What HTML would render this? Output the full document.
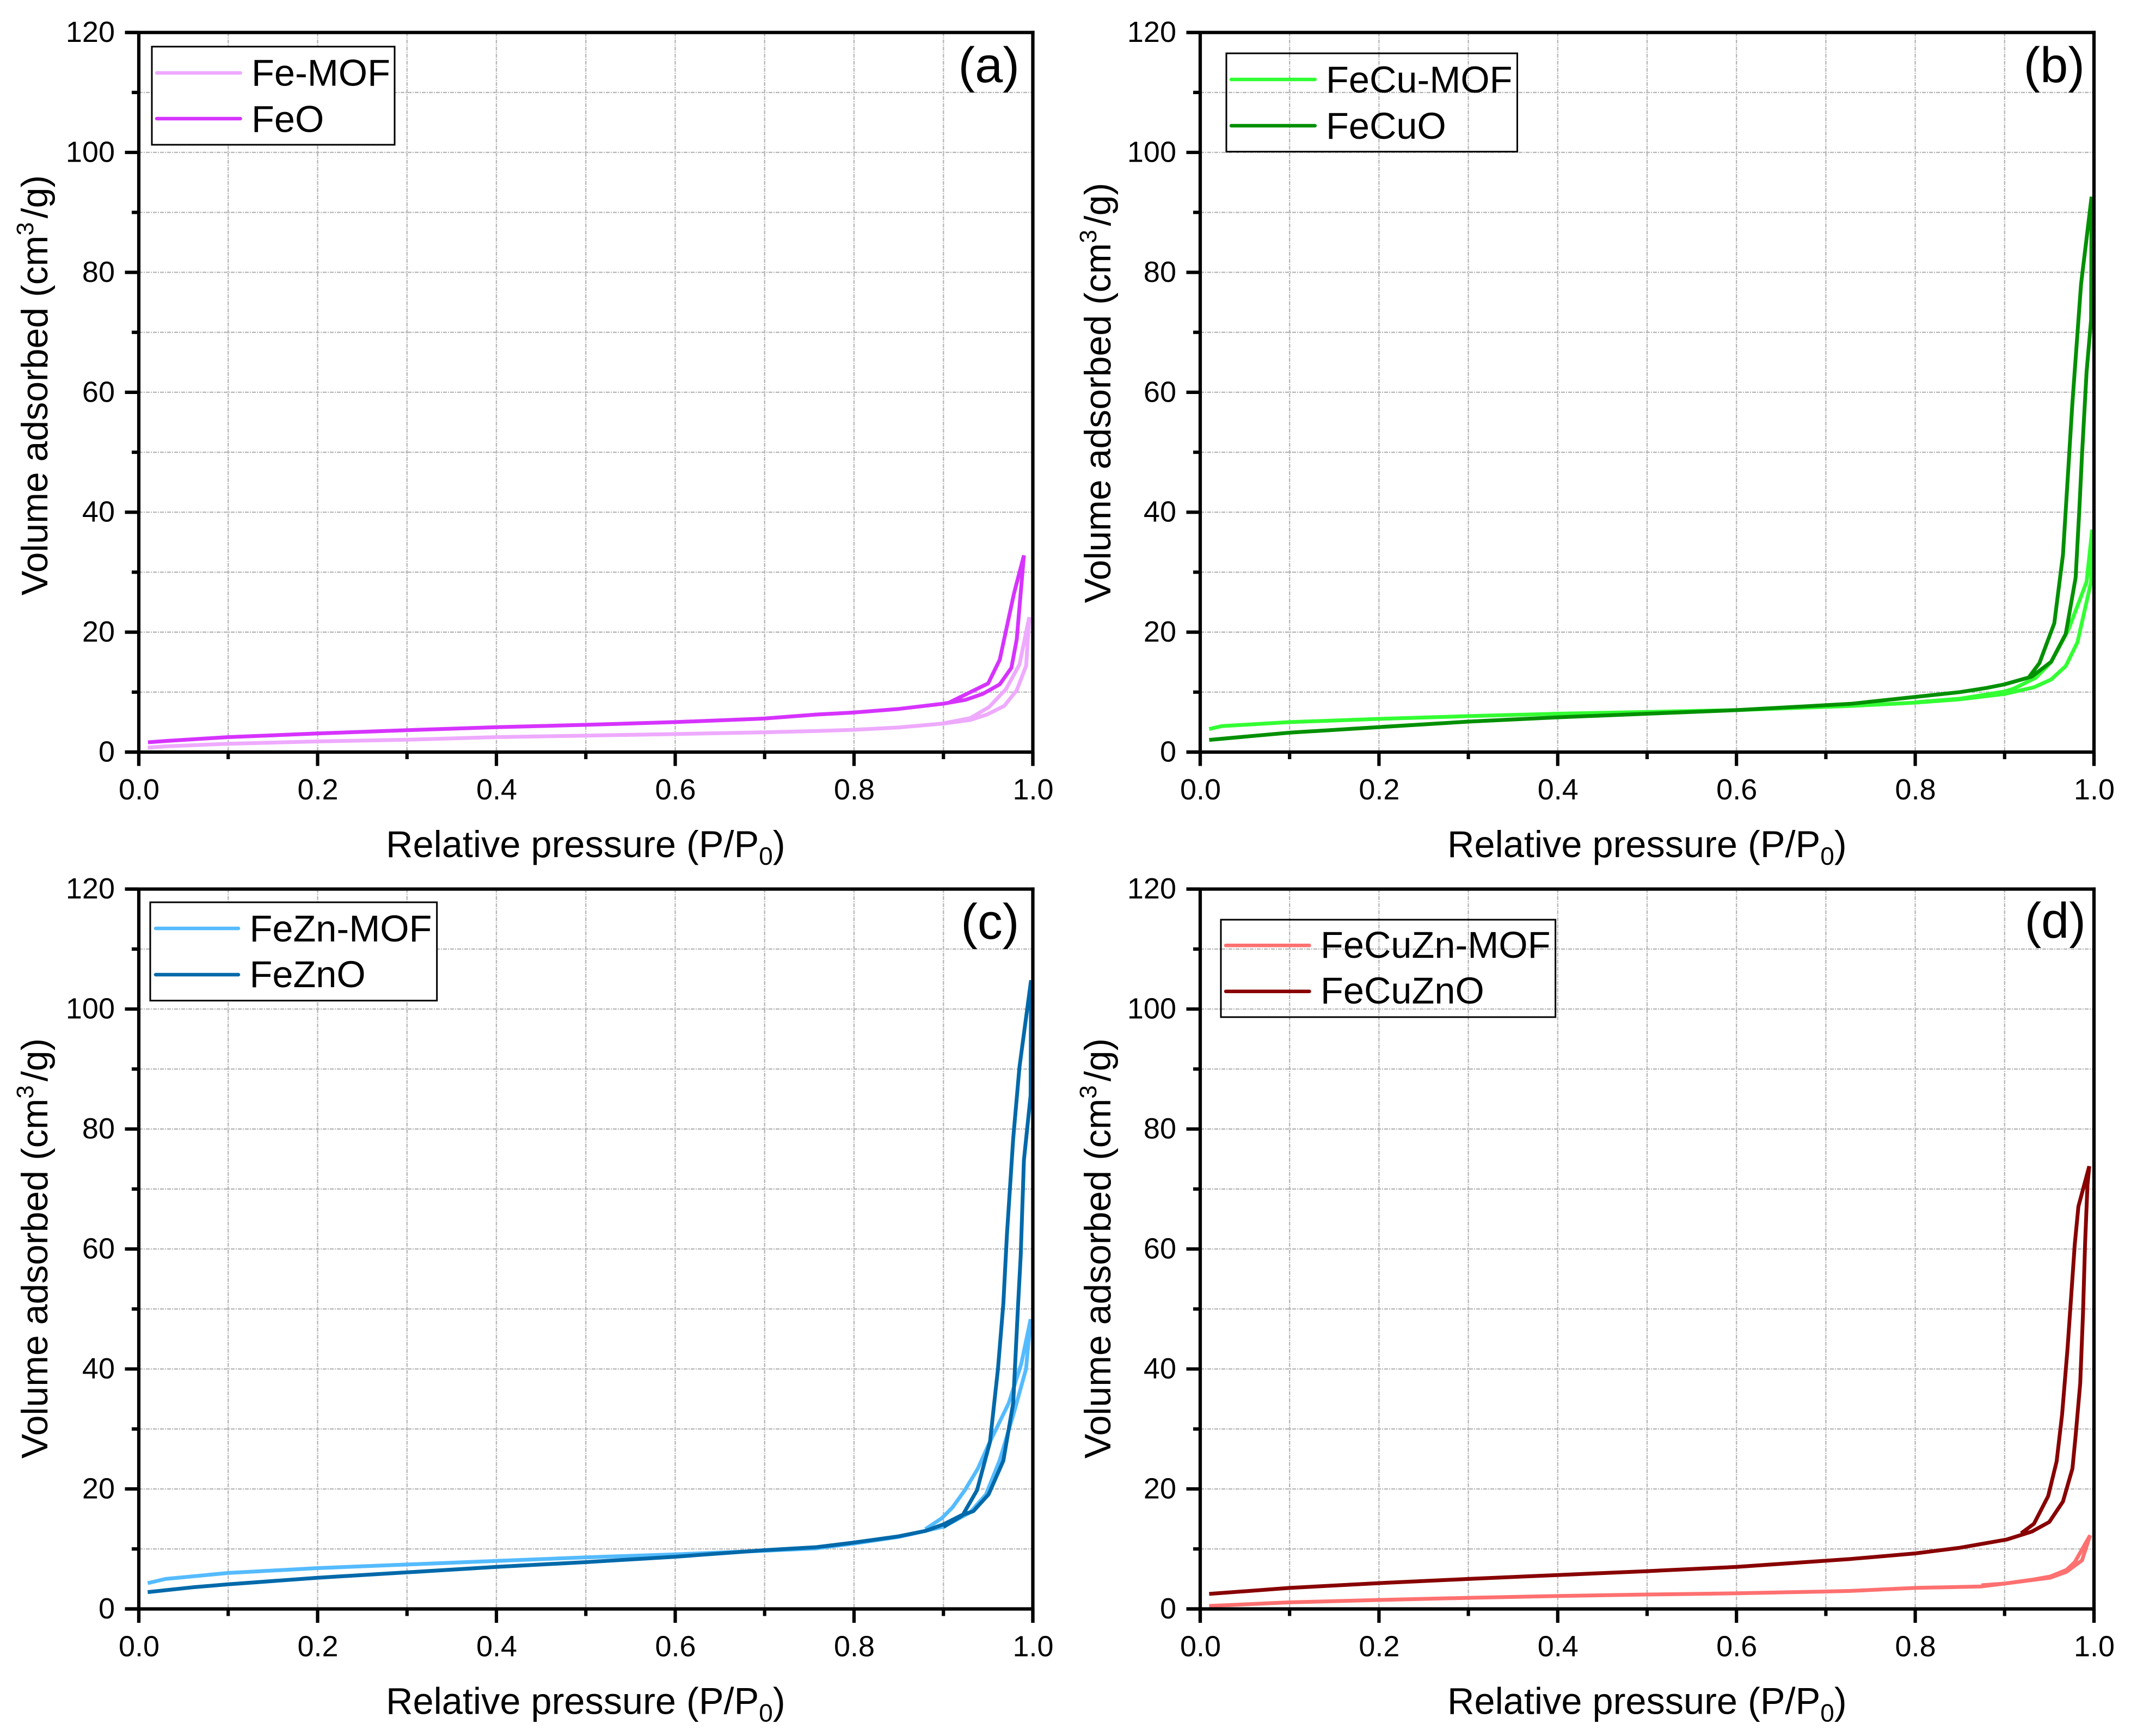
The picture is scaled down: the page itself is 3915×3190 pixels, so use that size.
<!DOCTYPE html>
<html lang="en">
<head>
<meta charset="utf-8">
<title>N2 adsorption isotherms</title>
<style>
html,body{margin:0;padding:0;background:#fff;width:3915px;height:3190px;overflow:hidden}
svg{display:block}
text{font-family:"Liberation Sans",Arial,sans-serif;fill:#000}
</style>
</head>
<body>
<svg id="figure" xmlns="http://www.w3.org/2000/svg" width="3915" height="3190" viewBox="0 0 3915 3190"></svg>
<script>
// ---- axis values ----
const xMajorTicks = [0, 0.2, 0.4, 0.6, 0.8, 1.0];
const xTickLabels = ['0.0', '0.2', '0.4', '0.6', '0.8', '1.0'];
const xMinorTicks = [0.1, 0.3, 0.5, 0.7, 0.9];
const yMajorTicks = [0, 20, 40, 60, 80, 100, 120];
const yTickLabels = ['0', '20', '40', '60', '80', '100', '120'];
const yMinorTicks = [10, 30, 50, 70, 90, 110];

// ---- series values: relative pressure / volume adsorbed ----
const feMofP = [0.01,0.03,0.1,0.2,0.3,0.4,0.5,0.6,0.7,0.758,0.8,0.85,0.9,0.93,0.9487,0.968,0.982,0.9925,0.996,0.985,0.97,0.951,0.93,0.9];
const feMofV = [0.75,0.95,1.39,1.78,2.06,2.5,2.75,3.0,3.3,3.51,3.72,4.1,4.76,5.35,6.26,7.7,10.3,14.4,22.5,14.6,10.5,7.5,5.66,4.8];
const feoP = [0.0103,0.03,0.1,0.2,0.3,0.4,0.5,0.6,0.7,0.758,0.8,0.85,0.9,0.9245,0.944,0.963,0.976,0.982,0.99,0.979,0.963,0.95,0.907];
const feoV = [1.63,1.85,2.5,3.1,3.66,4.15,4.55,5.0,5.6,6.26,6.6,7.2,8.08,8.7,9.7,11.3,14.06,18.8,32.8,26.5,15.4,11.45,8.3];
const feCuMofP = [0.01,0.024,0.1,0.2,0.3,0.4,0.5,0.6,0.7278,0.8,0.85,0.9,0.9327,0.952,0.9684,0.9815,0.9968,0.998,0.9917,0.9714,0.952,0.9349,0.9105,0.9,0.85,0.8];
const feCuMofV = [3.85,4.33,5.0,5.54,6.0,6.4,6.7,7.0,7.7,8.25,8.8,9.7,10.8,12.1,14.35,18.3,28.4,37.1,28.4,20.4,15,12.4,10.6,10.1,8.9,8.3];
const feCuOP = [0.01,0.1,0.2,0.3,0.4,0.5,0.6,0.7278,0.8,0.85,0.88,0.9,0.9306,0.952,0.9684,0.9795,0.9836,0.9866,0.9917,0.9968,0.9973,0.9855,0.9757,0.9714,0.9653,0.9556,0.939,0.9277];
const feCuOV = [2.03,3.24,4.17,5.08,5.8,6.4,7.0,8.05,9.2,10.0,10.7,11.3,12.6,15.05,19.7,29.1,40.5,49.6,63.4,72.1,92.6,78,57.9,47.5,32.9,21.5,14.85,12.6];
const feZnMofP = [0.01,0.03,0.1,0.2,0.3,0.4,0.5,0.6,0.7,0.758,0.8,0.85,0.9,0.93,0.9476,0.963,0.979,0.9924,0.9975,0.987,0.973,0.9505,0.9385,0.924,0.91,0.898,0.8798];
const feZnMofV = [4.3,5.0,6.0,6.8,7.4,8.0,8.6,9.1,9.7,10.1,10.9,12.0,13.7,16.1,19.1,24.8,32.8,40,48.3,40.8,34.3,27.4,23.4,19.8,16.9,15.1,13.3];
const feZnOP = [0.01,0.06,0.1,0.2,0.3,0.4,0.5,0.6,0.7,0.758,0.8,0.85,0.8798,0.9,0.92,0.9335,0.9505,0.967,0.978,0.9833,0.9864,0.99,0.9975,0.998,0.985,0.978,0.971,0.967,0.961,0.952,0.9376,0.9214,0.9];
const feZnOV = [2.8,3.6,4.1,5.2,6.1,7.0,7.8,8.7,9.8,10.3,11.07,12.1,13,14.1,15.6,16.3,19.1,24.7,34.3,50.2,58.9,74.8,85.6,104.8,90.3,78.4,62.4,50.9,40,27.8,19.8,15.6,13.66];
const feCuZnMofP = [0.01,0.1,0.2,0.3,0.4,0.5,0.6,0.7,0.7278,0.8,0.874,0.9,0.951,0.9693,0.9866,0.9957,0.9785,0.9693,0.951,0.9306,0.9,0.874];
const feCuZnMofV = [0.5,1.1,1.5,1.85,2.15,2.4,2.6,2.9,3.0,3.5,3.75,4.23,5.2,6.2,8.1,12.27,7.8,6.5,5.4,4.86,4.23,3.95];
const feCuZnOP = [0.01,0.1,0.2,0.3,0.4,0.5,0.6,0.7278,0.8,0.85,0.9023,0.9306,0.95,0.9653,0.9759,0.9795,0.9846,0.9877,0.99,0.9927,0.9947,0.9826,0.9785,0.9744,0.9704,0.9643,0.9582,0.9487,0.9328,0.9185];
const feCuZnOV = [2.5,3.5,4.3,5.0,5.65,6.3,7.0,8.33,9.25,10.2,11.57,12.9,14.5,17.9,23.4,28.9,37.6,49.2,60.8,70.6,73.8,67.1,60.8,52,43.4,32.4,24.6,18.8,14.2,12.6];

const NS = 'http://www.w3.org/2000/svg';
const root = document.getElementById('figure');

const panels = [
  { id:'a', tag:'(a)', left:255, right:1897.5, top:59.7, bottom:1382, tagX:1873, tagY:151,
    titleX:709, yTitleX:87, yTitleC:708, legendFill:'#fff',
    box:[279,85.7,725,266], sample:[285,444.5], rowY:[134,218], textX:462, baseY:[157.7,242.3],
    series:[{name:'Fe-MOF',color:'#EEAAFF',p:feMofP,v:feMofV},{name:'FeO',color:'#D633FF',p:feoP,v:feoV}] },
  { id:'b', tag:'(b)', left:2205, right:3847, top:59.7, bottom:1382, tagX:3830, tagY:151,
    titleX:2659, yTitleX:2040, yTitleC:722, legendFill:'none',
    box:[2253,98,2787.5,278.7], sample:[2259,2418.8], rowY:[146,231], textX:2436, baseY:[170,255],
    series:[{name:'FeCu-MOF',color:'#33FF33',p:feCuMofP,v:feCuMofV},{name:'FeCuO',color:'#009000',p:feCuOP,v:feCuOV}] },
  { id:'c', tag:'(c)', left:255, right:1897.5, top:1633.7, bottom:2956.5, tagX:1872.5, tagY:1725,
    titleX:709, yTitleX:87, yTitleC:2294, legendFill:'#fff',
    box:[276,1658,802.7,1838.7], sample:[283,441], rowY:[1706,1791], textX:458.5, baseY:[1730,1814],
    series:[{name:'FeZn-MOF',color:'#55BBFF',p:feZnMofP,v:feZnMofV},{name:'FeZnO',color:'#0069AA',p:feZnOP,v:feZnOV}] },
  { id:'d', tag:'(d)', left:2205, right:3847, top:1633.7, bottom:2956.5, tagX:3832, tagY:1723,
    titleX:2659, yTitleX:2040, yTitleC:2294, legendFill:'none',
    box:[2243,1690,2857.6,1869], sample:[2249,2408.5], rowY:[1737.3,1821.7], textX:2426, baseY:[1760,1844],
    series:[{name:'FeCuZn-MOF',color:'#FF7070',p:feCuZnMofP,v:feCuZnMofV},{name:'FeCuZnO',color:'#880000',p:feCuZnOP,v:feCuZnOV}] }
];

function make(tag, parent) {
  const el = document.createElementNS(NS, tag);
  parent.appendChild(el);
  return el;
}
function drawLine(parent, x1, y1, x2, y2, color, width) {
  const el = make('line', parent);
  el.setAttribute('x1', x1);
  el.setAttribute('y1', y1);
  el.setAttribute('x2', x2);
  el.setAttribute('y2', y2);
  el.setAttribute('stroke', color);
  el.setAttribute('stroke-width', width);
  return el;
}
function drawText(parent, x, y, str, size, anchor) {
  const el = make('text', parent);
  el.setAttribute('x', x);
  el.setAttribute('y', y);
  el.setAttribute('font-size', size);
  el.setAttribute('text-anchor', anchor);
  el.textContent = str;
  return el;
}
function addSpan(parent, str, size, dy, dx) {
  const el = make('tspan', parent);
  if (size) el.setAttribute('font-size', size);
  if (dy) el.setAttribute('dy', dy);
  if (dx) el.setAttribute('dx', dx);
  el.textContent = str;
  return el;
}

panels.forEach(function (P) {
  const sx = function (p) { return P.left + p * (P.right - P.left); };
  const sy = function (v) { return P.bottom - (v / 120) * (P.bottom - P.top); };
  const AXW = 6.2, MAJOR = 25.5, MINOR = 13;

  const g = make('g', root);
  
  

  // grid
  const grid = make('g', g);
  
  
  xMajorTicks.concat(xMinorTicks).forEach(function (t) {
    if (t === 0 || t === 1) return;
    const ln = drawLine(grid, sx(t), P.top, sx(t), P.bottom, '#b8b8b8', 2.4);
    ln.setAttribute('stroke-dasharray', '7 2 2 2');
    
    
  });
  yMajorTicks.concat(yMinorTicks).forEach(function (t) {
    if (t === 0 || t === 120) return;
    const ln = drawLine(grid, P.left, sy(t), P.right, sy(t), '#b8b8b8', 2.4);
    ln.setAttribute('stroke-dasharray', '7 2 2 2');
    
    
  });

  // series
  P.series.forEach(function (s) {
    const pts = s.p.map(function (p, i) { return sx(p).toFixed(1) + ',' + sy(s.v[i]).toFixed(1); }).join(' ');
    const poly = make('polyline', g);
    poly.setAttribute('points', pts);
    poly.setAttribute('fill', 'none');
    poly.setAttribute('stroke', s.color);
    poly.setAttribute('stroke-width', 7);
    poly.setAttribute('stroke-linejoin', 'bevel');
    
    
  });

  // axes frame
  const axes = make('g', g);
  
  
  const leftSpine = drawLine(axes, P.left, P.top, P.left, P.bottom + MAJOR, '#000', AXW);
  
  
  const rightSpine = drawLine(axes, P.right, P.top - AXW / 2, P.right, P.bottom + MAJOR, '#000', AXW);
  
  
  const topSpine = drawLine(axes, P.left - MAJOR, P.top, P.right + AXW / 2, P.top, '#000', AXW);
  
  
  const bottomSpine = drawLine(axes, P.left - MAJOR, P.bottom, P.right, P.bottom, '#000', AXW);
  
  

  // x ticks
  xMajorTicks.forEach(function (t, i) {
    const tk = drawLine(axes, sx(t), P.bottom, sx(t), P.bottom + MAJOR, '#000', AXW);
    
    
    const lb = drawText(axes, sx(t) + 0.5, P.bottom + 87, xTickLabels[i], 54, 'middle');
    
    
  });
  xMinorTicks.forEach(function (t) {
    const tk = drawLine(axes, sx(t), P.bottom, sx(t), P.bottom + MINOR, '#000', AXW);
    
    
  });

  // y ticks
  yMajorTicks.forEach(function (t, i) {
    const tk = drawLine(axes, P.left - MAJOR, sy(t), P.left, sy(t), '#000', AXW);
    
    
    const lb = drawText(axes, P.left - 44, sy(t) + 17.5, yTickLabels[i], 54, 'end');
    
    
  });
  yMinorTicks.forEach(function (t) {
    const tk = drawLine(axes, P.left - MINOR, sy(t), P.left, sy(t), '#000', AXW);
    
    
  });

  // x title
  const xTitle = drawText(g, P.titleX, P.bottom + 193, 'Relative pressure (P/P', 68.5, 'start');
  addSpan(xTitle, '0', 46, 14);
  addSpan(xTitle, ')', 68.5, -14);
  
  

  // y title
  const yTitle = drawText(g, 0, 0, 'Volume adsorbed (cm', 68, 'middle');
  addSpan(yTitle, '3', 44, -26);
  addSpan(yTitle, '/g)', 68, 26, 7);
  yTitle.setAttribute('transform', 'translate(' + P.yTitleX + ',' + P.yTitleC + ') rotate(-90)');
  
  

  // panel tag
  const tag = drawText(g, P.tagX, P.tagY, P.tag, 92, 'end');
  
  

  // legend
  const lg = make('g', g);
  
  
  const box = make('rect', lg);
  box.setAttribute('x', P.box[0]);
  box.setAttribute('y', P.box[1]);
  box.setAttribute('width', P.box[2] - P.box[0]);
  box.setAttribute('height', P.box[3] - P.box[1]);
  box.setAttribute('fill', P.legendFill);
  box.setAttribute('stroke', '#000');
  box.setAttribute('stroke-width', 3);
  
  
  P.series.forEach(function (s, i) {
    const sw = drawLine(lg, P.sample[0] + 3, P.rowY[i], P.sample[1] - 3, P.rowY[i], s.color, 6.5);
    sw.setAttribute('stroke-linecap', 'round');
    
    
    const tx = drawText(lg, P.textX, P.baseY[i], s.name, 68.5, 'start');
    
    
  });
});
</script>
</body>
</html>
